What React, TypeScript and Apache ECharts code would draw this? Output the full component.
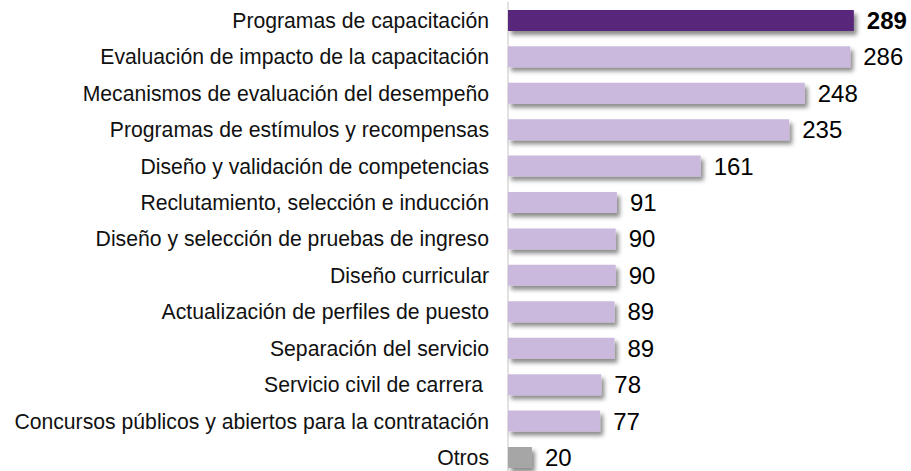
import React, { useEffect, useRef } from "react";
import * as echarts from "echarts";

const categories = [
  "Programas de capacitación",
  "Evaluación de impacto de la capacitación",
  "Mecanismos de evaluación del desempeño",
  "Programas de estímulos y recompensas",
  "Diseño y validación de competencias",
  "Reclutamiento, selección e inducción",
  "Diseño y selección de pruebas de ingreso",
  "Diseño curricular",
  "Actualización de perfiles de puesto",
  "Separación del servicio",
  "Servicio civil de carrera ",
  "Concursos públicos y abiertos para la contratación",
  "Otros",
];
const values = [289, 286, 248, 235, 161, 91, 90, 90, 89, 89, 78, 77, 20];

const DARK = "#58267A";
const LIGHT = "#CBB9DD";
const GRAY = "#A6A6A6";
const FONT = "'Liberation Sans', Arial, sans-serif";

export default function App() {
  const ref = useRef<HTMLDivElement>(null);
  useEffect(() => {
    if (!ref.current) return;
    const chart = echarts.init(ref.current, undefined, { renderer: "svg" });
    const n = values.length;
    chart.setOption({
      animation: false,
      grid: { left: 508, right: 44, top: 2.2, bottom: 2.3, containLabel: false },
      xAxis: { type: "value", min: 0, max: 300, show: false },
      yAxis: {
        type: "category",
        inverse: true,
        data: categories,
        axisLine: { show: true, lineStyle: { color: "#D9D9D9", width: 1.5 } },
        axisTick: { show: false },
        axisLabel: {
          fontFamily: FONT,
          fontSize: 21.2,
          color: "#111",
          margin: 19,
        },
      },
      series: [
        {
          type: "bar",
          barWidth: 21,
          data: values.map((v, i) => ({
            value: v,
            itemStyle: { color: i === 0 ? DARK : i === n - 1 ? GRAY : LIGHT },
            label: i === 0 ? { fontWeight: "bold" } : undefined,
          })),
          itemStyle: {
            shadowBlur: 4,
            shadowOffsetX: 3,
            shadowOffsetY: 4,
            shadowColor: "rgba(0,0,0,0.45)",
          },
          label: {
            show: true,
            position: "right",
            distance: 13,
            fontFamily: FONT,
            fontSize: 24,
            color: "#000",
          },
        },
      ],
    });
    return () => chart.dispose();
  }, []);
  return (
    <div
      ref={ref}
      style={{ position: "absolute", left: 0, top: 0, width: 911, height: 478 }}
    />
  );
}
